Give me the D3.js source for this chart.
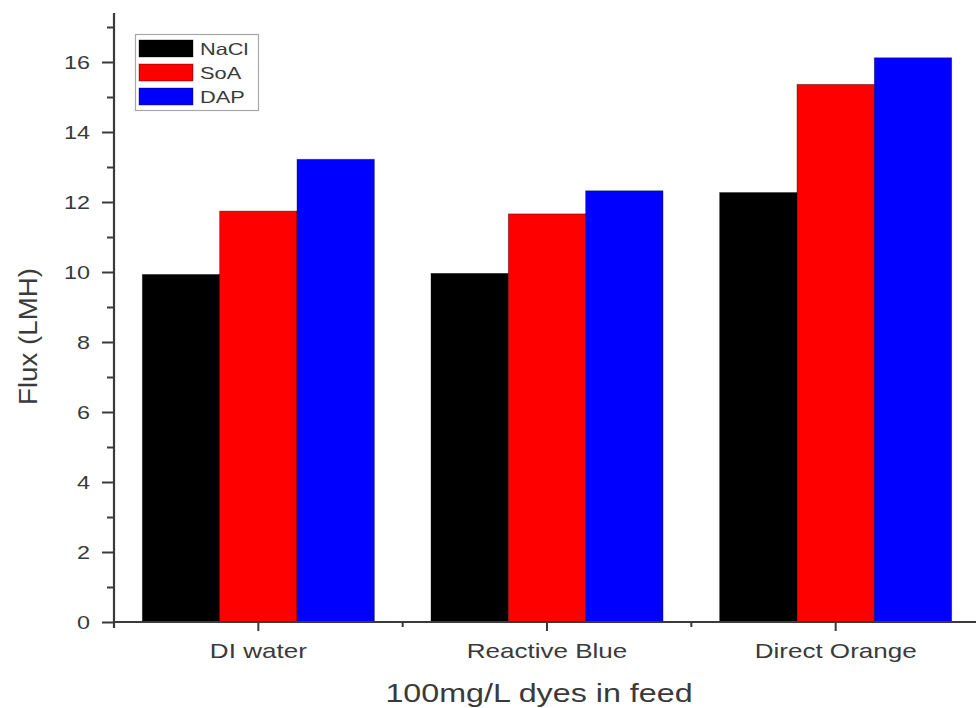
<!DOCTYPE html>
<html>
<head>
<meta charset="utf-8">
<script src="https://cdn.jsdelivr.net/npm/d3@7"></script>
<style>
  html, body { margin: 0; padding: 0; background: #fff; }
  svg { display: block; }
  text { font-family: "Liberation Sans", Arial, sans-serif; fill: #3a3a3a; }
</style>
</head>
<body>
<svg id="chart" width="976" height="708"></svg>
<script>
// Permeate flux for three draw solutions against three feeds
const categories = ["DI water", "Reactive Blue", "Direct Orange"];
const seriesNames = ["NaCl", "SoA", "DAP"];
const naclFlux = [9.93, 9.96, 12.27];
const soaFlux = [11.74, 11.66, 15.36];
const dapFlux = [13.22, 12.32, 16.12];
const majorTicks = [0, 2, 4, 6, 8, 10, 12, 14, 16];
const minorTicks = [1, 3, 5, 7, 9, 11, 13, 15, 17];
const yLabel = "Flux (LMH)";
const xLabel = "100mg/L dyes in feed";

const seriesValues = [naclFlux, soaFlux, dapFlux];
const colors = { NaCl: "#000000", SoA: "#ff0000", DAP: "#0000ff" };
const axisColor = "#3a3a3a";

const svg = d3.select("#chart");

// Scales
const x0 = d3.scaleBand().domain(categories).range([114, 980]).padding(0);
const x1 = d3.scaleBand().domain(seriesNames)
  .range([x0.bandwidth() / 2 - 116, x0.bandwidth() / 2 + 116]).padding(0);
const y = d3.scaleLinear().domain([0, 17.4]).range([622, 13]);

// Stretch text horizontally to the wide lettering used in the figure
function widen(sel, factor) {
  sel.each(function () {
    const w = this.getComputedTextLength();
    d3.select(this).attr("textLength", w * factor).attr("lengthAdjust", "spacingAndGlyphs");
  });
}

// Bars
const rows = categories.map((c, i) => ({
  category: c,
  values: seriesNames.map((s, k) => ({ series: s, value: seriesValues[k][i] }))
}));

const groups = svg.append("g").selectAll("g")
  .data(rows).join("g")
  .attr("transform", d => `translate(${x0(d.category)},0)`);

groups.selectAll("rect")
  .data(d => d.values).join("rect")
  .attr("x", d => x1(d.series))
  .attr("width", x1.bandwidth())
  .attr("y", d => y(d.value))
  .attr("height", d => y(0) - y(d.value))
  .attr("fill", d => colors[d.series])
  .attr("stroke", "rgba(0,0,0,0.45)")
  .attr("stroke-width", 0.8);

// Y axis: major and minor ticks
const yAxisG = svg.append("g").attr("transform", "translate(114,0)");
yAxisG.call(d3.axisLeft(y).tickValues(majorTicks).tickSize(12).tickPadding(12).tickSizeOuter(0));
yAxisG.select(".domain").remove();
yAxisG.selectAll(".tick line").attr("stroke", axisColor).attr("stroke-width", 2);
yAxisG.selectAll(".tick text")
  .attr("font-size", 19).attr("font-family", "Liberation Sans, Arial, sans-serif")
  .style("fill", "#3a3a3a")
  .call(widen, 1.23);

const yMinorG = svg.append("g").attr("transform", "translate(114,0)");
yMinorG.call(d3.axisLeft(y).tickValues(minorTicks).tickSize(7).tickFormat(""));
yMinorG.select(".domain").remove();
yMinorG.selectAll(".tick line").attr("stroke", axisColor).attr("stroke-width", 2);

svg.append("line")
  .attr("x1", 114).attr("x2", 114)
  .attr("y1", y(17.4)).attr("y2", y(0) + 6)
  .attr("stroke", axisColor).attr("stroke-width", 2.2);

// X axis
const xAxisG = svg.append("g").attr("transform", `translate(0,${y(0)})`);
xAxisG.call(d3.axisBottom(x0).tickSize(9).tickPadding(12).tickSizeOuter(0));
xAxisG.select(".domain").remove();
xAxisG.selectAll(".tick line").attr("stroke", axisColor).attr("stroke-width", 2);
xAxisG.selectAll(".tick text")
  .attr("font-size", 21).attr("font-family", "Liberation Sans, Arial, sans-serif")
  .style("fill", "#3a3a3a")
  .call(widen, 1.24);

// Minor ticks between categories
svg.append("g").selectAll("line")
  .data(categories.slice(1)).join("line")
  .attr("x1", d => x0(d)).attr("x2", d => x0(d))
  .attr("y1", y(0)).attr("y2", y(0) + 5)
  .attr("stroke", axisColor).attr("stroke-width", 2);

svg.append("line")
  .attr("x1", 114).attr("x2", 976)
  .attr("y1", y(0)).attr("y2", y(0))
  .attr("stroke", axisColor).attr("stroke-width", 2.2);

// Axis titles
svg.append("text")
  .attr("transform", "translate(37,336.5) rotate(-90)")
  .attr("text-anchor", "middle")
  .attr("font-size", 25)
  .attr("textLength", 137).attr("lengthAdjust", "spacingAndGlyphs")
  .text(yLabel);

svg.append("text")
  .attr("x", 539).attr("y", 702)
  .attr("text-anchor", "middle")
  .attr("font-size", 25)
  .text(xLabel)
  .call(widen, 1.29);

// Legend
const legend = svg.append("g");
legend.append("rect")
  .attr("x", 135.5).attr("y", 34.5).attr("width", 123).attr("height", 76)
  .attr("fill", "#fff").attr("stroke", "#a8a8a8").attr("stroke-width", 1.2);

const items = legend.selectAll("g.item")
  .data(seriesNames).join("g")
  .attr("class", "item")
  .attr("transform", (d, i) => `translate(139,${40 + i * 24})`);

items.append("rect")
  .attr("width", 54).attr("height", 17)
  .attr("fill", d => colors[d])
  .attr("stroke", "rgba(0,0,0,0.45)").attr("stroke-width", 0.8);

items.append("text")
  .attr("x", 61).attr("y", 14.5)
  .attr("font-size", 16.5)
  .text(d => d)
  .call(widen, 1.32);
</script>
</body>
</html>
